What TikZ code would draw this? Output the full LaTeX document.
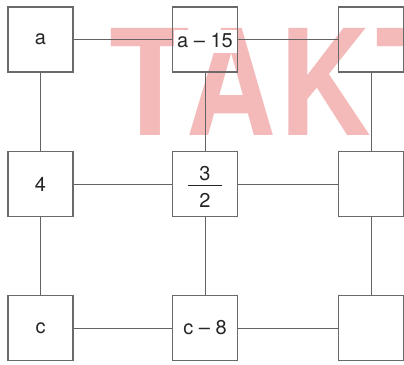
\documentclass[tikz,border=0pt]{standalone}
\usepackage{fontspec}
\setmainfont{TeX Gyre Heros}
\definecolor{boxgray}{HTML}{6A6A6A}
\definecolor{linegray}{HTML}{636363}
\definecolor{wm}{HTML}{F4BABA}
\begin{document}
\begin{tikzpicture}[x=1pt,y=-1pt,
  cell/.style={draw=boxgray, line width=1.1pt, minimum width=65pt, minimum height=65pt,
    inner sep=0pt, font=\fontsize{20}{24}\selectfont, text=black!85},
  txt/.style={font=\fontsize{20}{24}\selectfont, text=black!85, inner sep=0pt},
  link/.style={draw=linegray, line width=1pt},
  wmark/.style={text=wm, font=\bfseries\fontsize{147}{150}\selectfont, anchor=base west, inner sep=0pt}]
\useasboundingbox (0,0) rectangle (404,364);
\fill[white] (0,0) rectangle (404,364);
% watermark
\node[wmark] (wmT)  at (109.5,135) {\scalebox{0.9}[1]{T}};
\node[wmark] (wmA)  at (186,135)   {\scalebox{0.84}[1]{A}};
\node[wmark] (wmK)  at (279,135)   {\scalebox{0.86}[1]{K}};
\node[wmark] (wmT2) at (375.5,135) {\scalebox{0.9}[1]{T}};
% cells
\node[cell] (a)   at (40.5,39.5) {a};
\node[cell] (a15) at (205,39.5) {};
\node[txt, fill=white, minimum width=63pt, minimum height=23pt] (a15t) at (205,41) {a -- 15};
\node[cell] (r1)  at (371,39.5) {};
\node[cell] (f)   at (40.5,184) {4};
\node[cell] (h)   at (205,184) {};
\node[txt] (h3) at (205,174) {3};
\node[txt] (h2) at (205,200) {2};
\node[cell] (r2)  at (371,184) {};
\node[cell] (c)   at (40.5,328) {c};
\node[cell] (c8)  at (205,328) {c -- 8};
\node[cell] (r3)  at (371,328) {};
\draw[black!85, line width=0.9pt] (187.5,185.5) -- (222,185.5);
% connectors
\draw[link] (a) -- (a15);
\draw[link] (a15) -- (r1);
\draw[link] (f) -- (h);
\draw[link] (h) -- (r2);
\draw[link] (c) -- (c8);
\draw[link] (c8) -- (r3);
\draw[link] (a) -- (f);
\draw[link] (f) -- (c);
\draw[link] (a15) -- (h);
\draw[link] (h) -- (c8);
\draw[link] (r1) -- (r2);
\draw[link] (r2) -- (r3);
\end{tikzpicture}
\end{document}
